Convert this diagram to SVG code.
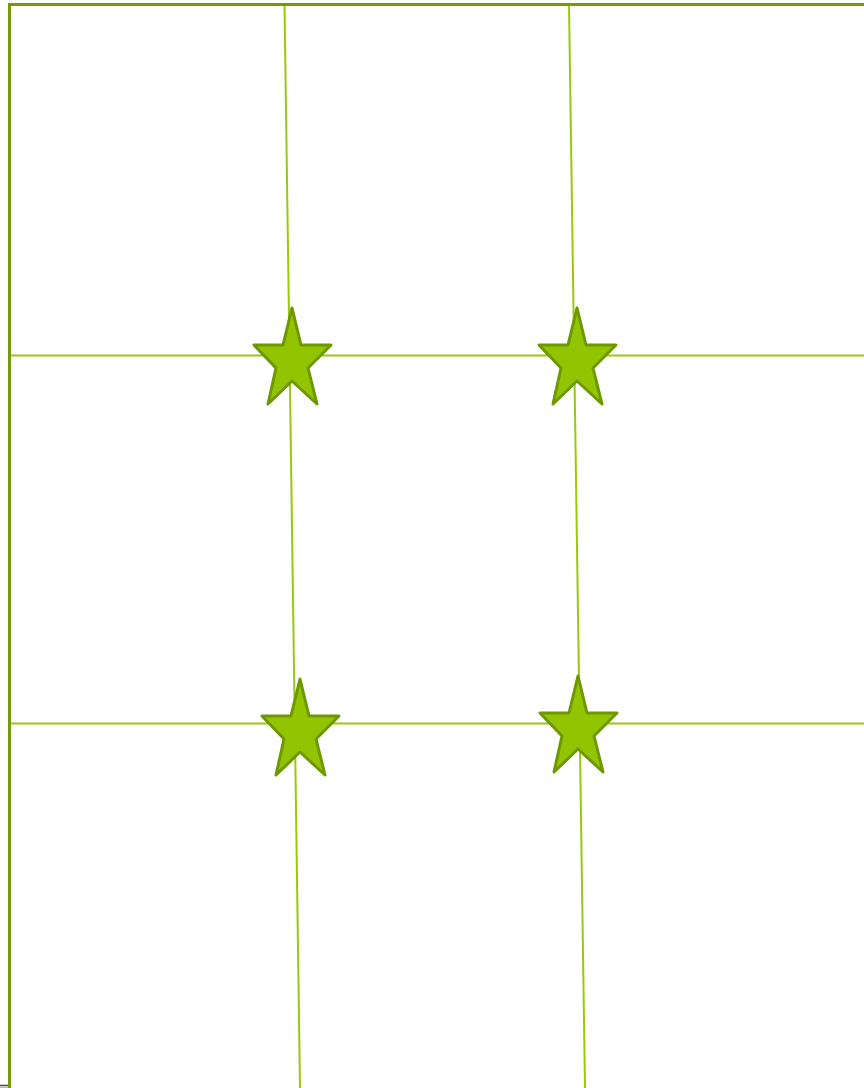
<svg xmlns="http://www.w3.org/2000/svg" width="864" height="1088" viewBox="0 0 864 1088">
<style>
.grid{stroke:#99c90f;stroke-width:2;fill:none}
.frame{stroke:#76990c;stroke-width:3;fill:none}
.star{fill:#92c500;stroke:#6e9800;stroke-width:3;stroke-linejoin:round}
</style>
<defs>
<path id="star" d="M0,0 L9,37 L39,37 L16,60 L25,96 L0,73 L-24,96 L-16,60 L-38,37 L-9,37 Z"/>
</defs>
<rect width="864" height="1088" fill="#ffffff"/>
<g id="connectors">
<line class="grid" x1="284.5" y1="4" x2="300" y2="1088"/>
<line class="grid" x1="569" y1="4" x2="585" y2="1088"/>
<line class="grid" x1="9" y1="355.5" x2="864" y2="355.5"/>
<line class="grid" x1="9" y1="723.5" x2="864" y2="723.5"/>
</g>
<g id="frame">
<line class="frame" x1="9" y1="4.5" x2="864" y2="4.5"/>
<line class="frame" x1="9.5" y1="3" x2="9.5" y2="1088"/>
<line x1="0" y1="1085.5" x2="8" y2="1085.5" stroke="#444" stroke-width="1.5"/>
<line x1="0" y1="1087.5" x2="8" y2="1087.5" stroke="#a8c878" stroke-width="1"/>
</g>
<g id="star1"><use href="#star" class="star" x="292" y="308"/></g>
<g id="star2"><use href="#star" class="star" x="577" y="308"/></g>
<g id="star3"><use href="#star" class="star" x="300" y="679"/></g>
<g id="star4"><use href="#star" class="star" x="578" y="676"/></g>
</svg>
